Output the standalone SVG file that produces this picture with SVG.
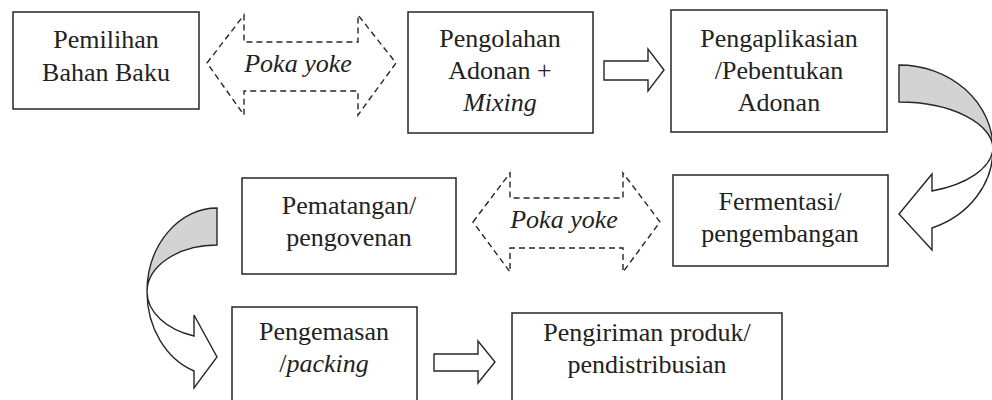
<svg xmlns="http://www.w3.org/2000/svg" width="992" height="400" viewBox="0 0 992 400">
<style>
.box{fill:#fff;stroke:#262626;stroke-width:1.5}
.t{font-family:"Liberation Serif","Times New Roman",serif;font-size:26px;fill:#222;text-anchor:middle}
.i{font-style:italic}
.dash{fill:none;stroke:#262626;stroke-width:1.4;stroke-dasharray:6 4}
.blk{fill:#fff;stroke:#262626;stroke-width:1.4;stroke-linejoin:miter}
.grey{fill:#d3d3d3;stroke:#262626;stroke-width:1.4}
.white{fill:#fff;stroke:#262626;stroke-width:1.4}
</style>
<rect width="992" height="400" fill="#fff"/>
<g id="connectors">
  <path class="dash" d="M207,63 L244,15 L244,42 L358,42 L358,15 L396,63 L358,115 L358,91 L244,91 L244,115 Z"/>
  <path class="blk" d="M604,61 L648,61 L648,49 L664,70 L648,91 L648,80 L604,80 Z"/>
  <path class="white" d="M993,149 A94 84 0 0 1 932,228 L932,250 L899,214 L932,174 L932,191 A94 47 0 0 0 993,149 Z"/>
  <path class="grey" d="M899,65 A94 84 0 0 1 993,149 A94 47 0 0 0 899,102 Z"/>
  <path class="dash" d="M473,222 L510,173 L510,198 L623,198 L623,173 L660,222 L623,272 L623,248 L510,248 L510,272 Z"/>
  <path class="white" d="M147,292 A70 84 0 0 0 194,371 L194,388 L217,357 L194,315 L194,336 A70 47 0 0 1 147,292 Z"/>
  <path class="grey" d="M217,208 A70 84 0 0 0 147,292 A70 47 0 0 1 217,245 Z"/>
  <path class="blk" d="M434,354 L478,354 L478,341 L495,362 L478,383 L478,371 L434,371 Z"/>
  <text class="t i" x="298" y="72">Poka yoke</text>
  <text class="t i" x="564" y="228">Poka yoke</text>
</g>
<g id="n1">
  <rect class="box" x="13" y="12" width="186" height="97"/>
  <text class="t" x="106" y="48">Pemilihan</text>
  <text class="t" x="106" y="81">Bahan Baku</text>
</g>
<g id="n2">
  <rect class="box" x="408" y="12" width="185" height="121"/>
  <text class="t" x="500" y="47">Pengolahan</text>
  <text class="t" x="500" y="79">Adonan +</text>
  <text class="t i" x="500" y="111">Mixing</text>
</g>
<g id="n3">
  <rect class="box" x="671" y="10" width="216" height="122"/>
  <text class="t" x="779" y="47">Pengaplikasian</text>
  <text class="t" x="779" y="79">/Pebentukan</text>
  <text class="t" x="779" y="111">Adonan</text>
</g>
<g id="n4">
  <rect class="box" x="673" y="175" width="215" height="91"/>
  <text class="t" x="780" y="210">Fermentasi/</text>
  <text class="t" x="780" y="242">pengembangan</text>
</g>
<g id="n5">
  <rect class="box" x="242" y="178" width="214" height="96"/>
  <text class="t" x="349" y="214">Pematangan/</text>
  <text class="t" x="349" y="246">pengovenan</text>
</g>
<g id="n6">
  <rect class="box" x="232" y="307" width="185" height="110"/>
  <text class="t" x="324" y="340">Pengemasan</text>
  <text class="t" x="324" y="372">/<tspan class="i">packing</tspan></text>
</g>
<g id="n7">
  <rect class="box" x="512" y="313" width="270" height="110"/>
  <text class="t" x="647" y="341">Pengiriman produk/</text>
  <text class="t" x="647" y="373">pendistribusian</text>
</g>
</svg>
